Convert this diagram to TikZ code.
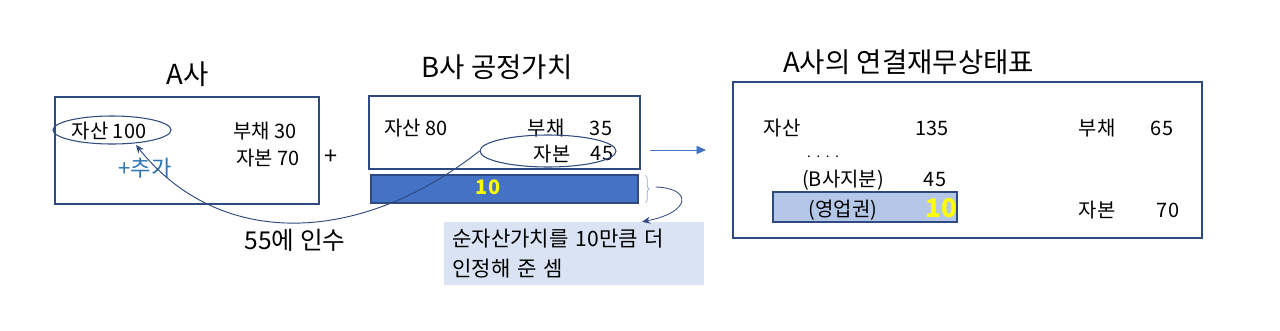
\documentclass[tikz,border=0pt]{standalone}
\usepackage{fontspec}
\setmainfont{Noto Sans CJK KR}
\usetikzlibrary{arrows.meta, positioning, shapes.geometric, decorations.pathreplacing, calc}
\definecolor{frameblue}{HTML}{2F4A80}
\definecolor{barblue}{HTML}{4472C4}
\definecolor{notefill}{HTML}{DAE3F3}
\definecolor{gwfill}{HTML}{B4C7E7}
\definecolor{plusblue}{HTML}{2E75B6}
\definecolor{numyellow}{HTML}{FFFF00}
\tikzset{
    frame/.style={draw=frameblue, line width=1.1pt, fill=white},
    oval/.style={ellipse, draw=frameblue, line width=0.9pt},
    txt/.style={inner sep=0pt, font=\fontsize{17}{20}\selectfont},
    title/.style={inner sep=0pt, font=\fontsize{23.5}{27}\selectfont},
    arrow/.style={-{Stealth[length=7pt,width=6pt]}, line width=0.8pt, frameblue},
    thinarrow/.style={-{Triangle[length=8pt,width=7pt]}, line width=0.6pt, barblue}
}

\begin{document}
\begin{tikzpicture}[x=0.03cm, y=-0.03cm]
        \useasboundingbox (0,0) rectangle (1280,330);
        % A사
        \node [title] (titleA) at (188,74) {A사};
        \node [frame, minimum width=7.92cm, minimum height=3.21cm] (boxA) at (187,150.5) {};
        \node [txt] (assetA) at (109,131) {자산 100};
        \node [oval, minimum width=3.54cm, minimum height=0.84cm] (ovalA) at (112,130) {};
        \node [txt] (debtA) at (265,131) {부채 30};
        \node [txt] (equityA) at (268,158) {자본 70};
        \node [txt, text=plusblue, font=\fontsize{19}{22}\selectfont] (addA) at (145,168) {+추가};
        \node [txt, font=\fontsize{20}{22}\selectfont] (plus) at (331,157) {+};
        % B사 공정가치
        \node [title] (titleB) at (497,67) {B사 공정가치};
        \node [frame, minimum width=8.13cm, minimum height=2.19cm] (boxB) at (504.5,132.5) {};
        \node [txt] (assetB) at (416,128) {자산 80};
        \node [txt] (debtB) at (546,128) {부채};
        \node [txt] (debtBv) at (601,128) {35};
        \node [txt] (equityB) at (552,154) {자본};
        \node [txt] (equityBv) at (602,154) {45};
        \node [oval, minimum width=4.08cm, minimum height=0.96cm] (ovalB) at (548,151) {};
        \node [draw=frameblue, line width=0.9pt, fill=barblue, minimum width=8.01cm, minimum height=0.84cm] (bar) at (504.5,189) {};
        \node [txt, text=numyellow, font=\bfseries\fontsize{17}{20}\selectfont] (barval) at (488,187) {10};
        \draw [decorate, decoration={brace, amplitude=3pt}, draw=barblue!60, line width=0.6pt] ($(bar.north east)+(7,1)$) -- ($(bar.south east)+(7,-1)$) coordinate[pos=0.5] (brace);
        % note
        \node [fill=notefill, minimum width=7.8cm, minimum height=1.89cm, text width=7.3cm, align=left, inner sep=0pt, font=\fontsize{18}{26}\selectfont] (note) at (574,253.5) {순자산가치를 10만큼 더\\인정해 준 셈};
        \coordinate (braceTip) at ($(brace)+(10,-2)$);
        \coordinate (noteIn) at ($(note.north)+(68,0)$);
        \draw [arrow, line width=0.7pt] (braceTip) .. controls (692,188) and (692,212) .. (noteIn);
        \node [txt, font=\fontsize{21}{24}\selectfont] (buy) at (295,240) {55에 인수};
        \draw [arrow] (ovalB.west) .. controls (360,245) and (220,250) .. (136,145);
        % A사의 연결재무상태표
        \coordinate (arrS) at (650,150);
        \coordinate (arrE) at (706,150);
        \draw [thinarrow] (arrS) -- (arrE);
        \node [title, anchor=west] (titleC) at (783,62) {A사의 연결재무상태표};
        \node [frame, minimum width=14.07cm, minimum height=4.68cm] (boxC) at (967.5,160) {};
        \node [draw=frameblue, line width=0.9pt, fill=gwfill, minimum width=5.52cm, minimum height=0.9cm] (gw) at (865,207) {};
        \node [txt] (assetC) at (782,128) {자산};
        \node [txt] (assetCv) at (932,128) {135};
        \node [txt] (debtC) at (1097,128) {부채};
        \node [txt] (debtCv) at (1162,128) {65};
        \node [txt, font=\fontsize{11}{12}\selectfont] (dots) at (823,157) {.\ \ .\ \ .\ \ .};
        \node [txt] (shareB) at (843,180) {(B사지분)};
        \node [txt] (shareBv) at (935,180) {45};
        \node [txt] (gwtxt) at (843,210) {(영업권)};
        \node [txt, text=numyellow, font=\bfseries\fontsize{22}{24}\selectfont] (gwv) at (941,208) {10};
        \node [txt] (equityC) at (1097,210) {자본};
        \node [txt] (equityCv) at (1168,210) {70};
    \end{tikzpicture}
\end{document}
